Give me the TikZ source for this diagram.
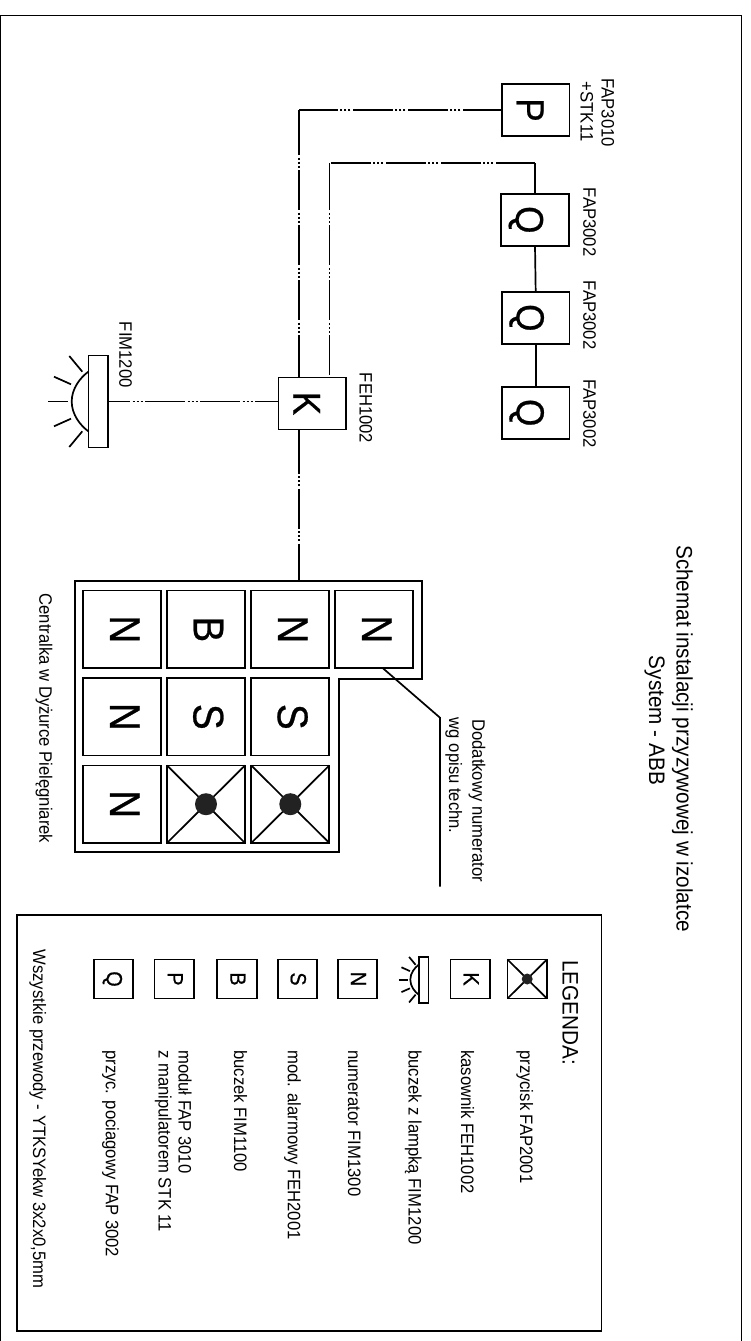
\documentclass[tikz,border=0pt]{standalone}
\usepackage{fontspec}
\setmainfont[FakeStretch=0.925]{Liberation Sans}
\newfontfamily\boxfont[FakeStretch=0.9,FakeBold=0.6]{Liberation Sans}
\usetikzlibrary{positioning}

\tikzset{
	lbl/.style = {rotate=-90, anchor=base west, inner sep=0, font=\fontsize{18}{20}\selectfont},
	ttl/.style = {lbl, font=\fontsize{22.4}{26}\selectfont},
	abox/.style = {draw, rotate=-90, line width=1.7pt, inner sep=0, outer sep=0},
	devbox/.style = {abox, text height=38pt, text depth=0pt, minimum width=52pt, minimum height=67.5pt, font=\boxfont\fontsize{39}{42}\selectfont},
	panbox/.style = {abox, text depth=5pt, minimum width=77.5pt, minimum height=78pt, font=\boxfont\fontsize{43}{46}\selectfont},
	legbox/.style = {abox, text depth=2pt, minimum width=39pt, minimum height=39.5pt, font=\boxfont\fontsize{22}{24}\selectfont},
	frm/.style = {line width=1.7pt},
	wire/.style = {line width=1.7pt, dash pattern=on #1pt off 2.5pt on 2pt off 2pt on 2pt off 2pt on 2pt off 2.5pt
		on 40pt off 2.5pt on 2pt off 2pt on 2pt off 2pt on 2pt off 2.5pt
		on 40pt off 2.5pt on 2pt off 2pt on 2pt off 2pt on 2pt off 2.5pt
		on 40pt off 2.5pt on 2pt off 2pt on 2pt off 2pt on 2pt off 2.5pt
		on 200pt off 1pt},
	lamp/.pic = {
		\draw [frm] (-9.7,-46) rectangle (9.7,46);
		\draw [frm] (-9.7,-30) .. controls (-18,-24) and (-26.6,-13) .. (-26.6,0) .. controls (-26.6,13) and (-18,24) .. (-9.7,30);
		\draw [frm] (-50,0) -- (-30.6,0);
		\foreach \s in {1,-1} {
			\draw [frm] (-44.3,\s*24.8) -- (-27.3,\s*17.2);
			\draw [frm] (-29,\s*45.5) -- (-16,\s*29.8);
		}
		\coordinate (-tail) at (9.7,0);
	}
}
\definecolor{dotgray}{HTML}{222222}

\begin{document}
\begin{tikzpicture}[x=1pt, y=-1pt]
	\useasboundingbox (0,0) rectangle (750,1341);
	\draw [frm] (0,15.5) rectangle (741.5,1345);

	\node [ttl] (title) at (676.7,545) {Schemat instalacji przyzywowej w izolatce};
	\node [ttl] (subtitle) at (649,655.7) {System - ABB};

	\node [devbox] (p) at (535.7,110) {P};
	\node [devbox] (q1) at (535,219.8) {Q};
	\node [devbox] (q2) at (535.7,317.8) {Q};
	\node [devbox] (q3) at (535.7,412.7) {Q};
	\node [devbox] (k) at (312.3,403.5) {K};
	\pic (fim) at (98.3,401.5) {lamp};

	\node [lbl] (lblpa) at (601.7,78.3) {FAP3010};
	\node [lbl] (lblpb) at (580.7,81.7) {+STK11};
	\node [lbl] (lblqa) at (583.3,187.7) {FAP3002};
	\node [lbl] (lblqb) at (583.3,280.7) {FAP3002};
	\node [lbl] (lblqc) at (583.3,379) {FAP3002};
	\node [lbl] (lblk) at (359.5,372.7) {FEH1002};
	\node [lbl] (lblfim) at (119.3,321.7) {FIM1200};

	\coordinate (cp) at (299.3,110);
	\coordinate (cq) at (329.6,163.3);
	\coordinate (centop) at (299.3,580.7);
	\draw [wire=39] (p.south) -- (cp);
	\draw [wire=45] (cp) -- (cp |- k.west);
	\draw [wire=39.5] (q1.west |- cq) -- (cq);
	\draw [wire=47] (cq) -- (cq |- k.west);
	\draw [frm] (q1.west) -- (q1.west |- cq);
	\draw [frm] (q1.east) -- (q2.west);
	\draw [frm] (q2.east) -- (q3.west);
	\draw [wire=22] (fim-tail) -- (fim-tail -| k.south);
	\draw [wire=44] (cp |- k.east) -- (centop);

	% centrala
	\draw [frm] (75,580.7) -- (422.3,580.7) -- (422.3,679) -- (338.7,679) -- (338.7,852.3) -- (75,852.3) -- cycle;
	\node [panbox] (na) at (122.3,629.3) {N};
	\node [panbox] (b) at (206,629.3) {B};
	\node [panbox] (nb) at (290.3,629.3) {N};
	\node [panbox] (nc) at (374.3,629.3) {N};
	\node [panbox] (nd) at (122.3,716.8) {N};
	\node [panbox] (sa) at (206,716.8) {S};
	\node [panbox] (sb) at (290.3,716.8) {S};
	\node [panbox] (ne) at (122.3,804.2) {N};
	\node [panbox] (pa) at (206,804.2) {};
	\node [panbox] (pb) at (290.3,804.2) {};
	\coordinate (lda) at (440,717.7);
	\coordinate (ldb) at (440,886.7);
	\draw [frm] (nc.east) ++(8.4,0) -- (lda) -- (ldb);
	\node [lbl] (lblnum) at (472.3,719) {Dodatkowy numerator};
	\node [lbl] (lblwg) at (449,717.7) {wg opisu techn.};
	\node [lbl] (lblcen) at (39.3,593.3) {Centralka w Dyżurce Pielęgniarek};

	% legenda
	\draw [frm] (17,915) rectangle (601.5,1331);
	\node [ttl] (leg) at (562.5,960) {LEGENDA:};
	\node [legbox] (lpa) at (527.2,979) {};
	\node [legbox] (lk) at (470.3,979) {K};
	\pic [scale=.5] (llamp) at (423.6,979.7) {lamp};
	\node [legbox] (ln) at (357.5,979) {N};
	\node [legbox] (ls) at (297.4,979) {S};
	\node [legbox] (lb) at (236.9,979) {B};
	\node [legbox] (lp) at (174.2,979) {P};
	\node [legbox] (lq) at (113.5,979) {Q};
	\foreach \n/\r in {pa/11, pb/11, lpa/5.5} {
		\draw [frm] (\n.north west) -- (\n.south east);
		\draw [frm] (\n.north east) -- (\n.south west);
		\fill [dotgray] (\n.center) circle [radius=\r];
	}
	\node [lbl] (txa) at (520,1050) {przycisk FAP2001};
	\node [lbl] (txb) at (461,1050) {kasownik FEH1002};
	\node [lbl] (txc) at (408.5,1050) {buczek z lampką FIM1200};
	\node [lbl] (txd) at (348,1050) {numerator FIM1300};
	\node [lbl] (txe) at (287.8,1050) {mod. alarmowy FEH2001};
	\node [lbl] (txf) at (234,1050) {buczek FIM1100};
	\node [lbl] (txg) at (178.6,1050) {moduł FAP 3010};
	\node [lbl] (txh) at (158.7,1050) {z manipulatorem STK 11};
	\node [lbl] (txi) at (105.8,1050) {przyc. pociagowy FAP 3002};
	\node [lbl] (txj) at (33,949.3) {Wszystkie przewody - YTKSYekw 3x2x0,5mm};
\end{tikzpicture}
\end{document}
